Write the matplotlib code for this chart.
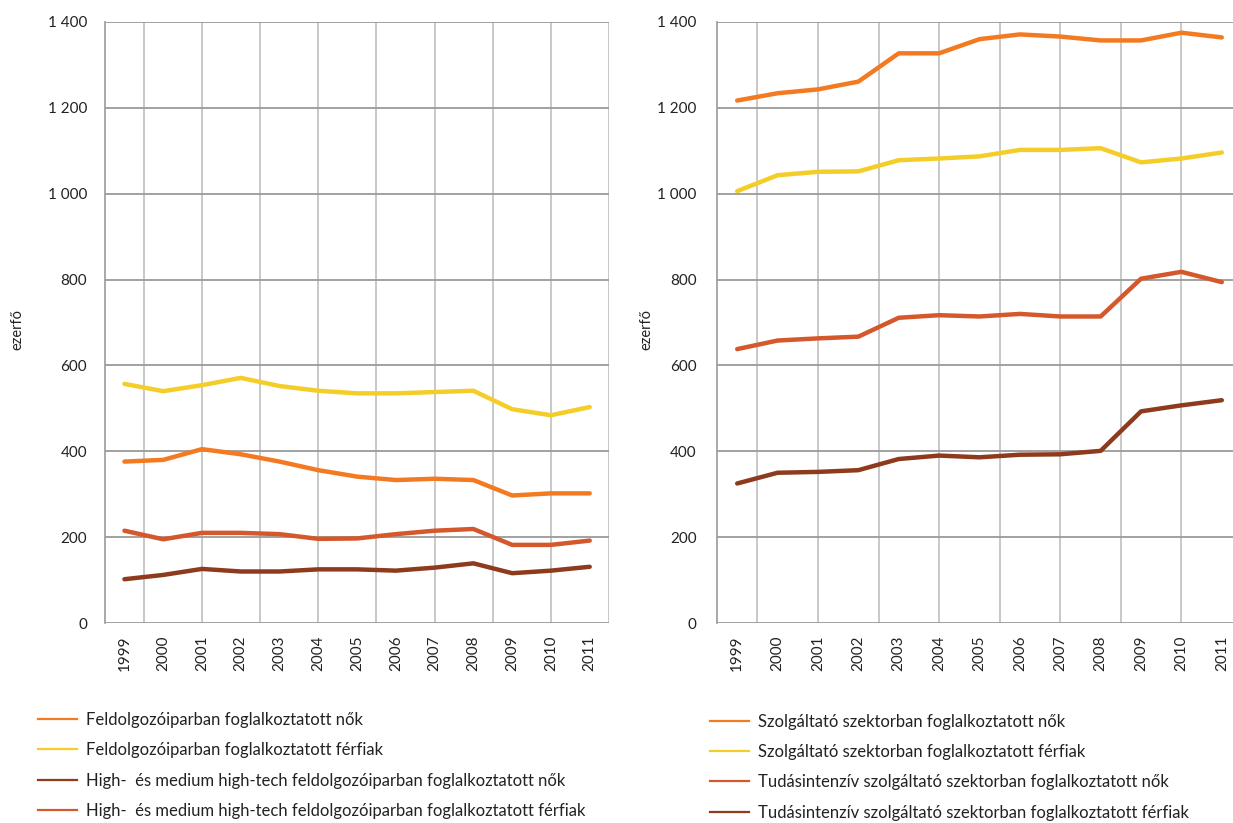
import matplotlib
matplotlib.use("Agg")
import matplotlib.pyplot as plt
from matplotlib.lines import Line2D
from matplotlib.ticker import FuncFormatter

plt.rcParams['font.family'] = ['Lato', 'DejaVu Sans']

years = list(range(1999, 2012))

# Feldolgozóipar (ezer fő)
feld_nok = [376, 380, 405, 393, 376, 356, 341, 333, 336, 333, 297, 302, 302]
feld_ferfiak = [557, 540, 554, 571, 552, 541, 535, 535, 538, 541, 498, 484, 503]
ht_nok = [102, 112, 126, 120, 120, 125, 125, 122, 129, 139, 116, 122, 131]
ht_ferfiak = [215, 195, 210, 210, 207, 196, 197, 207, 215, 219, 182, 182, 192]

# Szolgáltató szektor (ezer fő)
szolg_nok = [1217, 1234, 1243, 1261, 1327, 1327, 1360, 1371, 1366, 1357, 1357, 1375, 1364]
szolg_ferfiak = [1006, 1043, 1051, 1052, 1078, 1082, 1087, 1102, 1102, 1106, 1073, 1082, 1096]
tud_nok = [638, 658, 663, 667, 711, 717, 714, 720, 714, 714, 802, 818, 794]
tud_ferfiak = [325, 350, 352, 356, 382, 390, 386, 392, 393, 401, 493, 507, 519]

labels_left = [
    "Feldolgozóiparban foglalkoztatott nők",
    "Feldolgozóiparban foglalkoztatott férfiak",
    "High-  és medium high-tech feldolgozóiparban foglalkoztatott nők",
    "High-  és medium high-tech feldolgozóiparban foglalkoztatott férfiak",
]
labels_right = [
    "Szolgáltató szektorban foglalkoztatott nők",
    "Szolgáltató szektorban foglalkoztatott férfiak",
    "Tudásintenzív szolgáltató szektorban foglalkoztatott nők",
    "Tudásintenzív szolgáltató szektorban foglalkoztatott férfiak",
]

ORANGE = "#F47A22"
YELLOW = "#F5CD28"
BROWN = "#8E3B1D"
RUST = "#D4582B"

left_series = [(feld_nok, ORANGE), (feld_ferfiak, YELLOW), (ht_nok, BROWN), (ht_ferfiak, RUST)]
right_series = [(szolg_nok, ORANGE), (szolg_ferfiak, YELLOW), (tud_nok, RUST), (tud_ferfiak, BROWN)]

fig = plt.figure(figsize=(12.33, 8.23), dpi=100)
ax1 = fig.add_axes([0.0852, 0.2430, 0.4088, 0.7303])
ax2 = fig.add_axes([0.5815, 0.2430, 0.4258, 0.7303])

fmt = FuncFormatter(lambda v, p: f"{int(v):,}".replace(",", " "))
TXT = "#222222"


def style(ax, label_x, ypad):
    ax.set_xlim(1998.5, 2011.5)
    ax.set_ylim(0, 1400)
    ax.set_yticks(range(0, 1401, 200))
    ax.yaxis.set_major_formatter(fmt)
    ax.set_xticks(years)
    ax.set_xticklabels([str(y) for y in years], rotation=90)
    ax.tick_params(axis='both', length=0, labelsize=11, colors=TXT)
    ax.tick_params(axis='y', pad=ypad)
    ax.tick_params(axis='x', pad=9)
    for s in ("top", "right", "bottom"):
        ax.spines[s].set_visible(False)
    ax.spines["left"].set_color("#9a9a9a")
    ax.spines["left"].set_linewidth(1.2)
    ax.set_axisbelow(True)
    ax.grid(axis='y', color="#9a9a9a", linewidth=1.3)
    for gx in [1999.5 + 1.5 * k for k in range(9)]:
        ax.axvline(gx, color="#c4c4c4", linewidth=1.3, zorder=0)
    ax.set_ylabel("ezerfő", fontsize=10.5, color=TXT)
    ax.yaxis.set_label_coords(label_x, 0.488)


style(ax1, -0.160, 13)
style(ax2, -0.122, 14.5)
for ax, series in ((ax1, left_series), (ax2, right_series)):
    for vals, col in series:
        ax.plot(years, vals, color=col, linewidth=3.2, solid_capstyle='round', zorder=3)


def add_legend(ax, series, labels, anchor):
    handles = [Line2D([0], [0], color=c, linewidth=1.6) for _, c in series]
    ax.legend(handles, labels, loc='upper left', bbox_to_anchor=anchor,
              bbox_transform=fig.transFigure, frameon=False, fontsize=12,
              handlelength=2.35, handletextpad=0.5, labelspacing=0.86,
              borderaxespad=0, borderpad=0, labelcolor=TXT)


add_legend(ax1, left_series, labels_left, (0.031, 0.135))
add_legend(ax2, right_series, labels_right, (0.576, 0.133))

fig.savefig("out.png", dpi=100)
